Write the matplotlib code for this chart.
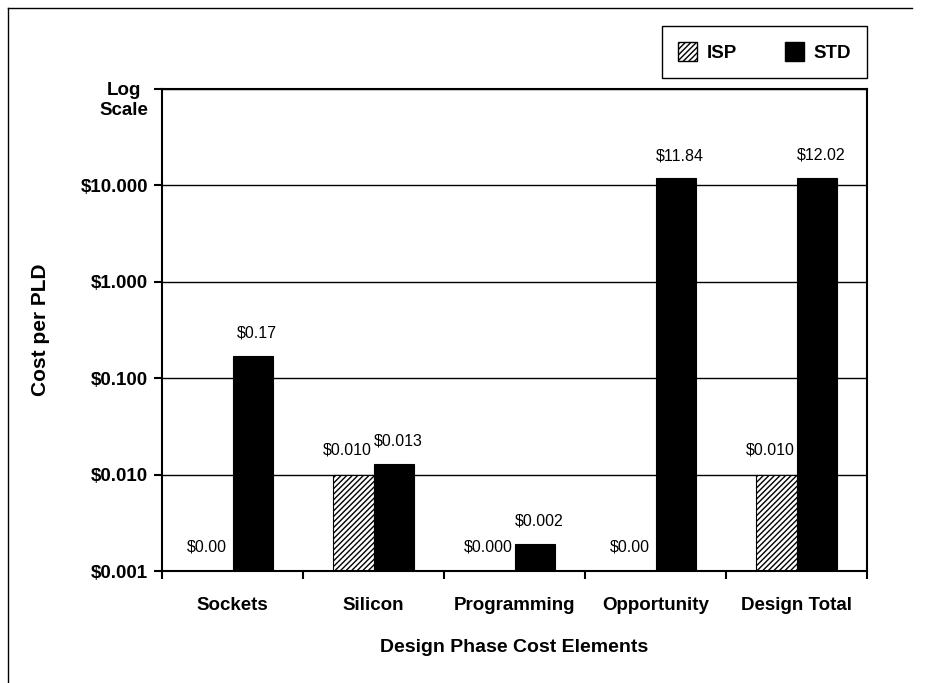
import numpy as np
import matplotlib.pyplot as plt
from matplotlib.patches import Patch
from matplotlib.lines import Line2D
from matplotlib.transforms import ScaledTranslation

categories = ['Sockets', 'Silicon', 'Programming', 'Opportunity', 'Design Total']
isp = [0.0, 0.010, 0.0004, 0.0, 0.010]
std = [0.17, 0.013, 0.0019, 11.84, 12.02]
isp_labels = ['$0.00', '$0.010', '$0.000', '$0.00', '$0.010']
std_labels = ['$0.17', '$0.013', '$0.002', '$11.84', '$12.02']
y_ticks = [0.001, 0.01, 0.1, 1, 10, 100]
y_ticklabels = ['$0.001', '$0.010', '$0.100', '$1.000', '$10.000', 'Log\nScale']

plt.rcParams['font.family'] = ['Liberation Sans', 'DejaVu Sans']
plt.rcParams['hatch.linewidth'] = 1.0

fig = plt.figure(figsize=(9.38, 6.83), dpi=100)
ax = fig.add_axes([162/938, 1 - 571/683, (867 - 162)/938, (571 - 89)/683])

ymin, ymax = 0.001, 100
x = np.arange(len(categories))
w = 0.29

isp_h = np.clip(np.array(isp) - ymin, 0, None)
std_h = np.clip(np.array(std) - ymin, 0, None)
ax.bar(x - w/2, isp_h, w, bottom=ymin, color='white', edgecolor='black',
       hatch='//////', linewidth=0.8, zorder=3)
ax.bar(x + w/2, std_h, w, bottom=ymin, color='black', edgecolor='black',
       linewidth=0.8, zorder=3)

for xi, v, lab in zip(x - w/2, isp, isp_labels):
    ax.annotate(lab, (xi, max(v, ymin)), xytext=(-4, 12), textcoords='offset points',
                ha='center', va='bottom', fontsize=11.5)
for xi, v, lab in zip(x + w/2, std, std_labels):
    ax.annotate(lab, (xi, max(v, ymin)), xytext=(3, 11), textcoords='offset points',
                ha='center', va='bottom', fontsize=11.5)

ax.set_yscale('log')
ax.set_ylim(ymin, ymax)
ax.set_xlim(-0.5, len(categories) - 0.5)
ax.set_yticks(y_ticks)
ax.set_yticklabels(y_ticklabels, fontsize=13.5, fontweight='bold')
ax.yaxis.set_minor_locator(plt.NullLocator())
ax.tick_params(axis='y', direction='out', length=6, width=1.5, pad=4)
# Log Scale label sits a bit below its tick
top_lab = ax.get_yticklabels()[-1]
top_lab.set_multialignment('center')
top_lab.set_transform(top_lab.get_transform() + ScaledTranslation(0, -6/72, fig.dpi_scale_trans))

ax.set_xticks(x)
ax.set_xticklabels(categories, fontsize=13.5, fontweight='bold')
ax.set_xticks(np.arange(len(categories) + 1) - 0.5, minor=True)
ax.tick_params(axis='x', which='major', length=0, pad=19)
ax.tick_params(axis='x', which='minor', direction='out', length=6, width=1.5)

ax.grid(axis='y', which='major', color='black', linewidth=1.0, zorder=1)
for s in ax.spines.values():
    s.set_linewidth(1.5)
    s.set_zorder(4)

ax.set_xlabel('Design Phase Cost Elements', fontsize=14, fontweight='bold', labelpad=18)
ax.set_ylabel('Cost per PLD', fontsize=15, fontweight='bold', labelpad=22)

handles = [Patch(facecolor='white', edgecolor='black', hatch='//////', label='ISP'),
           Patch(facecolor='black', edgecolor='black', label='STD')]
leg = fig.legend(handles=handles, ncol=2, loc='upper right',
                 bbox_to_anchor=(867/938, 1 - 26/683), borderaxespad=0, fancybox=False,
                 edgecolor='black', framealpha=1, handlelength=1.0, handleheight=1.2,
                 columnspacing=2.6, handletextpad=0.5, borderpad=0.85,
                 prop={'size': 13.5, 'weight': 'bold'})
leg.get_frame().set_linewidth(1.0)

# outer frame of the figure
fig.add_artist(Line2D([8/938, 8/938], [0, 1 - 8/683], color='black', linewidth=1.0))
fig.add_artist(Line2D([8/938, 912/938], [1 - 8/683, 1 - 8/683], color='black', linewidth=1.0))

fig.savefig('out.png', dpi=100)
